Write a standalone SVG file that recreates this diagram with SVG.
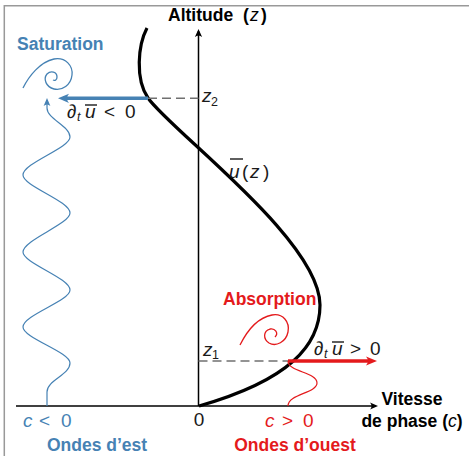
<svg xmlns="http://www.w3.org/2000/svg" width="469" height="456" viewBox="0 0 469 456">
<defs>
<style>
.lbl{font-family:"Liberation Sans",Arial,sans-serif;font-weight:bold;font-size:17.5px}
.m{font-family:"Liberation Sans",Arial,sans-serif;font-size:19px}
.s{font-family:"Liberation Sans",Arial,sans-serif;font-size:12.5px}
.i{font-style:italic;font-weight:normal}
.blue{fill:#4682b4}
.red{fill:#e41a1c}
.dark{fill:#1a1a1a}
.axis{stroke:#000;stroke-width:1.5;fill:none}
.dash{stroke:#707070;stroke-width:1.5;stroke-dasharray:9 5;fill:none}
.bar{stroke:#1a1a1a;stroke-width:1.4}
</style>
<marker id="ax" viewBox="-10 -5 11 10" refX="-2" refY="0" markerWidth="11" markerHeight="10" markerUnits="userSpaceOnUse" orient="auto">
<path d="M0,0 L-8,-3.6 Q-5,0 -8,3.6 Z" fill="#000"/>
</marker>
<marker id="hb" viewBox="-12 -6 13 12" refX="-5" refY="0" markerWidth="13" markerHeight="12" markerUnits="userSpaceOnUse" orient="auto">
<path d="M0,0 L-11,-4.6 Q-7,0 -11,4.6 Z" fill="#4682b4"/>
</marker>
<marker id="hr" viewBox="-12 -6 13 12" refX="-5" refY="0" markerWidth="13" markerHeight="12" markerUnits="userSpaceOnUse" orient="auto">
<path d="M0,0 L-11,-4.6 Q-7,0 -11,4.6 Z" fill="#e41a1c"/>
</marker>
<marker id="tb" viewBox="-10 -5 11 10" refX="-2" refY="0" markerWidth="11" markerHeight="10" markerUnits="userSpaceOnUse" orient="auto">
<path d="M0,0 L-8,-3.4 Q-5,0 -8,3.4 Z" fill="#4682b4"/>
</marker>
</defs>

<g id="frame" stroke="#999" stroke-width="1.5" fill="none">
<path d="M4.3,456 V5.8 H469"/>
</g>

<g id="axes">
<path class="axis" d="M198.5,406 V31" marker-end="url(#ax)"/>
<path class="axis" d="M16,406 H376" marker-end="url(#ax)"/>
<text class="lbl" y="21"><tspan x="168">Altitude</tspan><tspan x="243">(</tspan><tspan class="i" x="250">z</tspan><tspan x="261">)</tspan></text>
<text class="lbl" x="412" y="405" text-anchor="middle">Vitesse</text>
<text class="lbl" x="412" y="427" text-anchor="middle">de phase (<tspan class="i">c</tspan>)</text>
<text class="m dark" x="199" y="426" text-anchor="middle">0</text>
</g>

<g id="profile">
<path d="M147,28 C138,45 135,79 148,98 C170,130 320,240 320,305 C320,345 290,380 199,406" fill="none" stroke="#000" stroke-width="3.2"/>
<text class="m dark" y="178" font-size="22"><tspan class="i" x="229">u</tspan><tspan x="242">(</tspan><tspan class="i" x="250">z</tspan><tspan x="263">)</tspan></text>
<line class="bar" x1="230" y1="159" x2="243" y2="159"/>
</g>

<g id="z2-level">
<path class="dash" d="M148,98.3 H198.5"/>
<text class="m dark" y="101.5" font-size="17"><tspan class="i" x="202">z</tspan></text>
<text class="s dark" x="211" y="105.5">2</text>
</g>

<g id="z1-level">
<path class="dash" d="M198.5,361 H288"/>
<text class="m dark" y="356" font-size="17"><tspan class="i" x="203">z</tspan></text>
<text class="s dark" x="212" y="359">1</text>
</g>

<g id="saturation">
<text class="lbl blue" x="17" y="50">Saturation</text>
<path d="M23,88 C29,76 40,62 54,59 C66,57 73,66 72,75 C71,85 62,91 54,89 C46,87 43,79 47,74 C51,70 57,72 57,77 C57,80 55,81 53,80" fill="none" stroke="#4682b4" stroke-width="1.3"/>
</g>

<g id="absorption">
<text class="lbl red" x="223" y="305">Absorption</text>
<path d="M240,345 C246,333 256,318 272,315 C283,313 290,322 288,332 C286,342 276,347 269,343 C263,339 263,331 270,329 C275,328 279,333 275,337" fill="none" stroke="#e41a1c" stroke-width="1.3"/>
</g>

<g id="east-waves">
<text class="m blue"><tspan class="i" x="23" y="427">c</tspan><tspan x="39" y="427">&lt;</tspan><tspan x="61" y="427">0</tspan></text>
<text class="lbl blue" x="97" y="451" text-anchor="middle">Ondes d’est</text>
</g>

<g id="west-waves">
<text class="m red"><tspan class="i" x="265" y="427">c</tspan><tspan x="282" y="427">&gt;</tspan><tspan x="303" y="427">0</tspan></text>
<text class="lbl red" x="295" y="451" text-anchor="middle">Ondes d’ouest</text>
</g>

<g id="tendency-neg">
<text class="m dark" x="67" y="118" font-size="20">∂</text>
<text class="s dark i" x="77" y="121">t</text>
<text class="m dark i" x="85" y="118">u</text>
<line class="bar" x1="85" y1="105" x2="97" y2="105"/>
<text class="m dark" x="104" y="118">&lt;</text>
<text class="m dark" x="125" y="118">0</text>
</g>

<g id="tendency-pos">
<text class="m dark" x="314" y="355" font-size="20">∂</text>
<text class="s dark i" x="324" y="358">t</text>
<text class="m dark i" x="332" y="355">u</text>
<line class="bar" x1="332" y1="342" x2="344" y2="342"/>
<text class="m dark" x="350" y="355">&gt;</text>
<text class="m dark" x="370" y="355">0</text>
</g>

<g id="connectors">
<path d="M148,98.3 H63" fill="none" stroke="#4682b4" stroke-width="3.4" marker-end="url(#hb)"/>
<path d="M288,361 H372" fill="none" stroke="#e41a1c" stroke-width="3.4" marker-end="url(#hr)"/>
<path d="M47,406 V392 C47,380 70,375 70,363 C70,352 23,338 23,327 C23,315 70,301 70,290 C70,278 23,263 23,252 C23,240 70,224 70,213 C70,201 23,186 23,175 C23,163 70,148 70,137 C70,126 47,119 47,108 V100" fill="none" stroke="#4682b4" stroke-width="1.2" marker-end="url(#tb)"/>
<path d="M288,406 C288,394 317,393 317,383 C317,372 288,372 288,361" fill="none" stroke="#e41a1c" stroke-width="1.2"/>
</g>
</svg>
